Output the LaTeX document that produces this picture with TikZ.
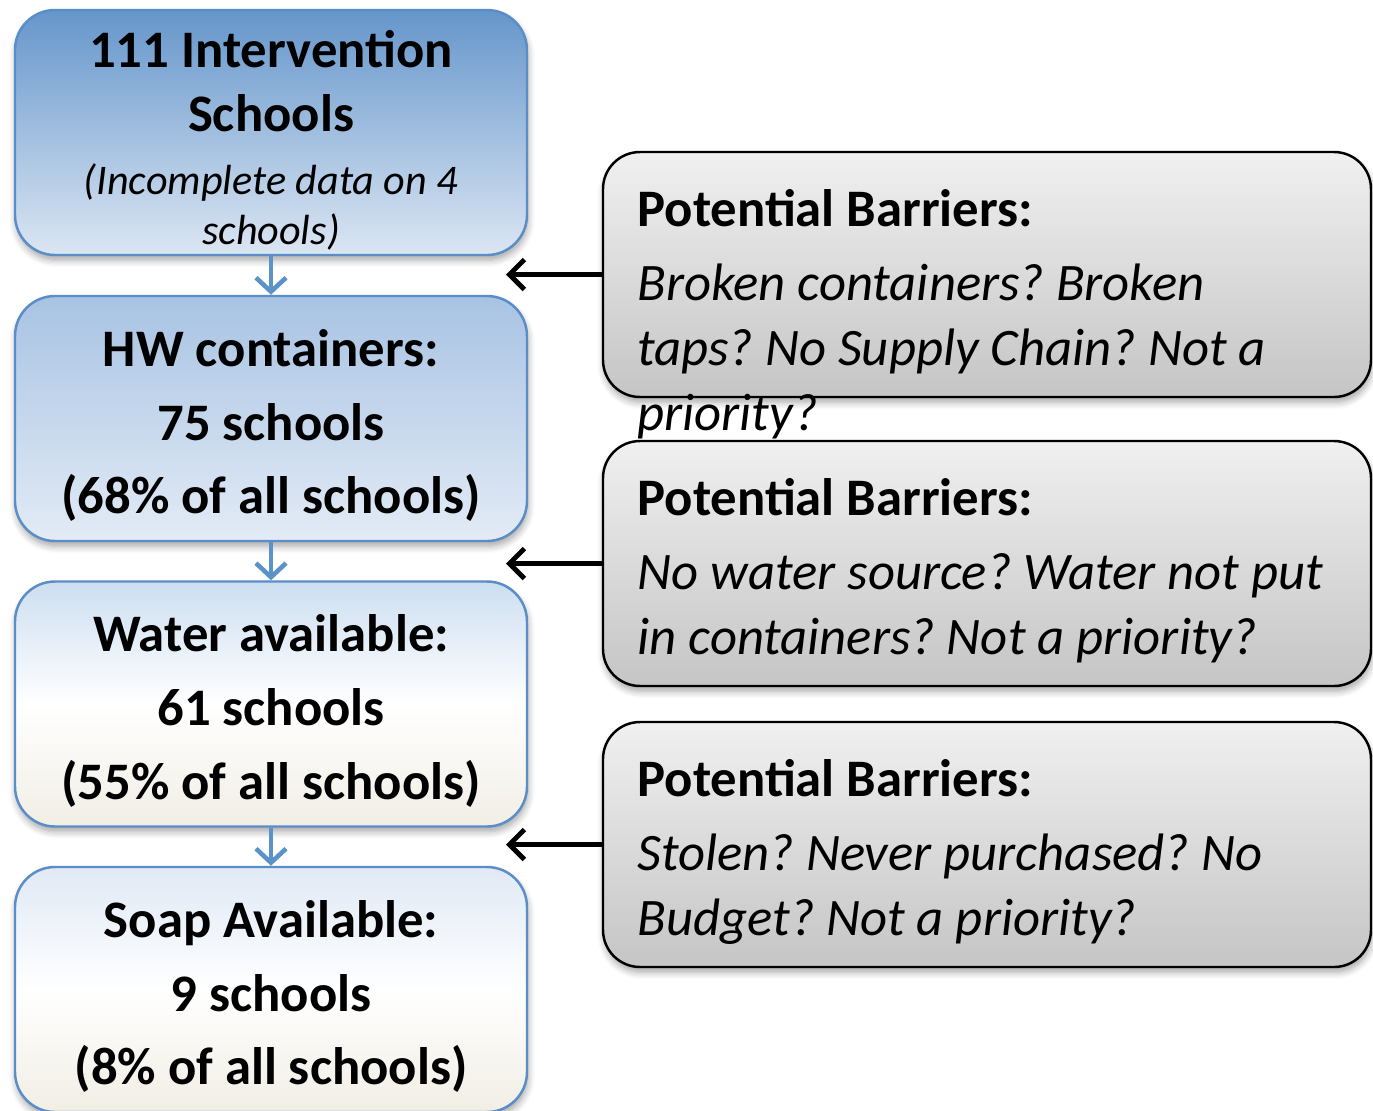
\documentclass[tikz,border=0pt]{standalone}
\usepackage{fontspec}
\setmainfont{Carlito}
\frenchspacing
\usetikzlibrary{arrows.meta,positioning,shadows.blur}

\definecolor{stageline}{HTML}{5B8DC6}
\definecolor{stagearrow}{HTML}{5B93C9}
\definecolor{s1top}{HTML}{6596CB}
\definecolor{s1bot}{HTML}{DCE6F3}
\definecolor{s2top}{HTML}{A8C3E3}
\definecolor{s2bot}{HTML}{E3EBF6}
\definecolor{s3top}{HTML}{CDDEF1}
\definecolor{s4top}{HTML}{E0E9F5}
\definecolor{stagecream}{HTML}{F1EEE5}
\definecolor{bartop}{HTML}{F0F0F0}
\definecolor{barbot}{HTML}{C5C5C5}

\begin{document}
\begin{tikzpicture}[
    stage/.style = {draw = stageline, line width = 0.7pt, rounded corners = 0.4cm,
        minimum width = 5.12cm, minimum height = 2.45cm, inner sep = 0pt,
        blur shadow = {shadow xshift = 0.3pt, shadow yshift = -1.5pt, shadow opacity = 35, shadow blur steps = 6}},
    stagetext/.style = {inner sep = 0pt, align = center, yshift = -0.07cm,
        font = \fontsize{15}{21}\selectfont\bfseries},
    barrier/.style = {draw = black, line width = 0.7pt, rounded corners = 0.37cm,
        minimum width = 7.68cm, minimum height = 2.45cm, inner sep = 0pt,
        top color = bartop, bottom color = barbot,
        blur shadow = {shadow xshift = 0.3pt, shadow yshift = -1.5pt, shadow opacity = 35, shadow blur steps = 6}},
    bartext/.style = {inner sep = 0pt, align = left, font = \fontsize{15}{18.5}\selectfont},
    flow/.style = {draw = stagearrow, line width = 1.3pt, -{Straight Barb[length = 0.14cm, width = 0.3cm]}},
    push/.style = {line width = 1.4pt, -{Straight Barb[length = 0.15cm, width = 0.3cm]}}
]
    \useasboundingbox (0,0) rectangle (13.73,-11.10);

    \node[stage, top color = s1top, bottom color = s1bot] (total) at (2.71,-1.325) {};
    \node[stage, top color = s2top, bottom color = s2bot] (hw) at (2.71,-4.185) {};
    \node[stage, top color = s3top, bottom color = stagecream, middle color = white] (water) at (2.71,-7.04) {};
    \node[stage, top color = s4top, bottom color = stagecream, middle color = white] (soap) at (2.71,-9.895) {};

    \node[stagetext, yshift = -0.01cm, font = \fontsize{15}{18}\selectfont\bfseries] (totaltxt) at (total)
        {111 Intervention\\Schools\\{\fontsize{12}{14.5}\selectfont\mdseries\itshape (Incomplete data on 4}\\[-3.8pt]{\fontsize{12}{14.5}\selectfont\mdseries\itshape schools)}};
    \node[stagetext] (hwtxt) at (hw) {HW containers:\\75 schools\\(68\% of all schools)};
    \node[stagetext] (watertxt) at (water) {Water available:\\61 schools\\(55\% of all schools)};
    \node[stagetext] (soaptxt) at (soap) {Soap Available:\\9 schools\\(8\% of all schools)};

    \draw[flow] (total) -- (hw);
    \draw[flow] (hw) -- (water);
    \draw[flow] (water) -- (soap);

    \node[barrier] (cont) at (9.87,-2.745) {};
    \node[barrier] (tap) at (9.87,-5.635) {};
    \node[barrier] (buy) at (9.87,-8.445) {};

    \node[bartext, below right = 0.38 and 0.35 of cont.north west] (conttxt)
        {\textbf{Potential Barriers:}\\[2.5pt]\textit{Broken containers? Broken}\\\textit{taps? No Supply Chain? Not a}\\\textit{priority?}};
    \node[bartext, below right = 0.38 and 0.35 of tap.north west] (taptxt)
        {\textbf{Potential Barriers:}\\[2.5pt]\textit{No water source? Water not put}\\\textit{in containers? Not a priority?}};
    \node[bartext, below right = 0.38 and 0.35 of buy.north west] (buytxt)
        {\textbf{Potential Barriers:}\\[2.5pt]\textit{Stolen? Never purchased? No}\\\textit{Budget? Not a priority?}};

    \coordinate (stop) at (5.06,0);
    \draw[push] (cont.west) -- (cont.west -| stop);
    \draw[push] (tap.west) -- (tap.west -| stop);
    \draw[push] (buy.west) -- (buy.west -| stop);
\end{tikzpicture}
\end{document}
